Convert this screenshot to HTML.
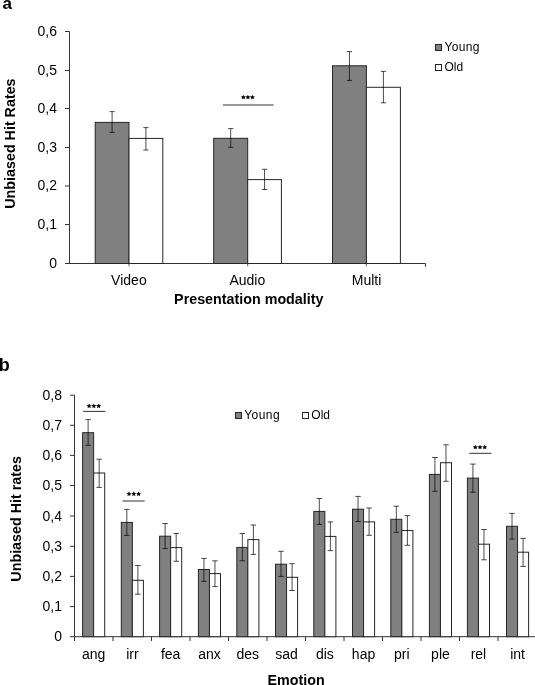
<!DOCTYPE html>
<html><head><meta charset="utf-8"><style>
html,body{margin:0;padding:0;background:#fff;width:535px;height:685px;overflow:hidden}
svg{display:block;will-change:transform}
text{font-family:"Liberation Sans", sans-serif;fill:#000}
</style></head><body>
<svg width="535" height="685" viewBox="0 0 535 685">
<path d="M69.5 31.5V263.5M65 263.5H425.5V266.8" stroke="#333333" stroke-width="1" fill="none"/>
<path d="M65 224.5H69.5" stroke="#333333" stroke-width="1"/>
<path d="M65 186H69.5" stroke="#333333" stroke-width="1"/>
<path d="M65 147.5H69.5" stroke="#333333" stroke-width="1"/>
<path d="M65 108.5H69.5" stroke="#333333" stroke-width="1"/>
<path d="M65 70.5H69.5" stroke="#333333" stroke-width="1"/>
<path d="M65 31.5H69.5" stroke="#333333" stroke-width="1"/>
<text x="57" y="267.5" font-size="14" text-anchor="end">0</text>
<text x="57" y="228.5" font-size="14" text-anchor="end">0,1</text>
<text x="57" y="190" font-size="14" text-anchor="end">0,2</text>
<text x="57" y="151.5" font-size="14" text-anchor="end">0,3</text>
<text x="57" y="112.5" font-size="14" text-anchor="end">0,4</text>
<text x="57" y="74.5" font-size="14" text-anchor="end">0,5</text>
<text x="57" y="35.5" font-size="14" text-anchor="end">0,6</text>
<rect x="95.2" y="122.4" width="33.8" height="141.1" fill="#808080" stroke="#262626" stroke-width="1"/>
<rect x="129" y="138.4" width="33.8" height="125.1" fill="#ffffff" stroke="#262626" stroke-width="1"/>
<rect x="213.7" y="138.3" width="34" height="125.2" fill="#808080" stroke="#262626" stroke-width="1"/>
<rect x="247.7" y="179.6" width="33.7" height="83.9" fill="#ffffff" stroke="#262626" stroke-width="1"/>
<rect x="332.5" y="65.8" width="33.9" height="197.7" fill="#808080" stroke="#262626" stroke-width="1"/>
<rect x="366.4" y="87.3" width="34" height="176.2" fill="#ffffff" stroke="#262626" stroke-width="1"/>
<path d="M129 263.5V266.3" stroke="#262626" stroke-opacity="0.75" stroke-width="1"/>
<path d="M112.1 111.6V132.4M109.5 111.6H114.7M109.5 132.4H114.7" stroke="rgba(0,0,0,0.7)" stroke-width="1" fill="none"/>
<path d="M145.9 127.6V150M143.3 127.6H148.5M143.3 150H148.5" stroke="rgba(0,0,0,0.7)" stroke-width="1" fill="none"/>
<path d="M247.7 263.5V266.3" stroke="#262626" stroke-opacity="0.75" stroke-width="1"/>
<path d="M230.7 128.6V147.3M228.1 128.6H233.3M228.1 147.3H233.3" stroke="rgba(0,0,0,0.7)" stroke-width="1" fill="none"/>
<path d="M264.55 169.3V189.5M261.95 169.3H267.15M261.95 189.5H267.15" stroke="rgba(0,0,0,0.7)" stroke-width="1" fill="none"/>
<path d="M366.4 263.5V266.3" stroke="#262626" stroke-opacity="0.75" stroke-width="1"/>
<path d="M349.45 51.6V80.4M346.85 51.6H352.05M346.85 80.4H352.05" stroke="rgba(0,0,0,0.7)" stroke-width="1" fill="none"/>
<path d="M383.4 71.4V102.8M380.8 71.4H386M380.8 102.8H386" stroke="rgba(0,0,0,0.7)" stroke-width="1" fill="none"/>
<text x="128.9" y="285" font-size="14" text-anchor="middle">Video</text>
<text x="247.3" y="285" font-size="14" text-anchor="middle">Audio</text>
<text x="366.6" y="285" font-size="14" text-anchor="middle">Multi</text>
<text x="248.8" y="303.5" font-size="14.3" text-anchor="middle" font-weight="bold">Presentation modality</text>
<text transform="translate(15,143.6) rotate(-90)" font-size="14.3" font-weight="bold" text-anchor="middle">Unbiased Hit Rates</text>
<path d="M222.9 105H273.6" stroke="#333" stroke-width="1"/>
<polygon points="243.40,94.65 244.13,96.24 245.87,96.45 244.59,97.64 244.93,99.35 243.40,98.50 241.87,99.35 242.21,97.64 240.93,96.45 242.67,96.24" fill="#000"/>
<polygon points="247.90,94.65 248.63,96.24 250.37,96.45 249.09,97.64 249.43,99.35 247.90,98.50 246.37,99.35 246.71,97.64 245.43,96.45 247.17,96.24" fill="#000"/>
<polygon points="252.40,94.65 253.13,96.24 254.87,96.45 253.59,97.64 253.93,99.35 252.40,98.50 250.87,99.35 251.21,97.64 249.93,96.45 251.67,96.24" fill="#000"/>
<rect x="435.5" y="44.5" width="6" height="6" fill="#808080" stroke="#262626" stroke-width="1"/>
<rect x="435.5" y="64.5" width="6" height="6" fill="#fff" stroke="#262626" stroke-width="1"/>
<text x="444.5" y="50.8" font-size="12" text-anchor="start" textLength="35" lengthAdjust="spacing">Young</text>
<text x="444.5" y="71" font-size="12" text-anchor="start">Old</text>
<text x="2.5" y="8.8" font-size="17" text-anchor="start" font-weight="bold">a</text>
<path d="M74.5 395.2V641M70 636.7H535" stroke="#333333" stroke-width="1" fill="none"/>
<path d="M70 606.6H74.5" stroke="#333333" stroke-width="1"/>
<path d="M70 576.4H74.5" stroke="#333333" stroke-width="1"/>
<path d="M70 546.3H74.5" stroke="#333333" stroke-width="1"/>
<path d="M70 516H74.5" stroke="#333333" stroke-width="1"/>
<path d="M70 485.6H74.5" stroke="#333333" stroke-width="1"/>
<path d="M70 455.4H74.5" stroke="#333333" stroke-width="1"/>
<path d="M70 425.3H74.5" stroke="#333333" stroke-width="1"/>
<path d="M70 395.2H74.5" stroke="#333333" stroke-width="1"/>
<text x="62" y="641.4" font-size="14" text-anchor="end">0</text>
<text x="62" y="611.3" font-size="14" text-anchor="end">0,1</text>
<text x="62" y="581.1" font-size="14" text-anchor="end">0,2</text>
<text x="62" y="551" font-size="14" text-anchor="end">0,3</text>
<text x="62" y="520.7" font-size="14" text-anchor="end">0,4</text>
<text x="62" y="490.3" font-size="14" text-anchor="end">0,5</text>
<text x="62" y="460.1" font-size="14" text-anchor="end">0,6</text>
<text x="62" y="430" font-size="14" text-anchor="end">0,7</text>
<text x="62" y="399.9" font-size="14" text-anchor="end">0,8</text>
<path d="M113 636.7V641" stroke="#333333" stroke-width="1"/>
<path d="M151.5 636.7V641" stroke="#333333" stroke-width="1"/>
<path d="M190 636.7V641" stroke="#333333" stroke-width="1"/>
<path d="M228.5 636.7V641" stroke="#333333" stroke-width="1"/>
<path d="M267 636.7V641" stroke="#333333" stroke-width="1"/>
<path d="M305.5 636.7V641" stroke="#333333" stroke-width="1"/>
<path d="M344 636.7V641" stroke="#333333" stroke-width="1"/>
<path d="M382.5 636.7V641" stroke="#333333" stroke-width="1"/>
<path d="M421 636.7V641" stroke="#333333" stroke-width="1"/>
<path d="M459.5 636.7V641" stroke="#333333" stroke-width="1"/>
<path d="M498 636.7V641" stroke="#333333" stroke-width="1"/>
<path d="M536.5 636.7V641" stroke="#333333" stroke-width="1"/>
<rect x="82.6" y="432.7" width="11.05" height="204" fill="#808080" stroke="#262626" stroke-width="1"/>
<rect x="93.65" y="473" width="11.05" height="163.7" fill="#ffffff" stroke="#262626" stroke-width="1"/>
<rect x="121.3" y="522.4" width="11.05" height="114.3" fill="#808080" stroke="#262626" stroke-width="1"/>
<rect x="132.35" y="580.3" width="11.05" height="56.4" fill="#ffffff" stroke="#262626" stroke-width="1"/>
<rect x="159.6" y="536.2" width="11.05" height="100.5" fill="#808080" stroke="#262626" stroke-width="1"/>
<rect x="170.65" y="547.6" width="11.05" height="89.1" fill="#ffffff" stroke="#262626" stroke-width="1"/>
<rect x="198.4" y="569.5" width="11.05" height="67.2" fill="#808080" stroke="#262626" stroke-width="1"/>
<rect x="209.45" y="573.6" width="11.05" height="63.1" fill="#ffffff" stroke="#262626" stroke-width="1"/>
<rect x="236.8" y="547.4" width="11.05" height="89.3" fill="#808080" stroke="#262626" stroke-width="1"/>
<rect x="247.85" y="539.6" width="11.05" height="97.1" fill="#ffffff" stroke="#262626" stroke-width="1"/>
<rect x="275.5" y="564.2" width="11.05" height="72.5" fill="#808080" stroke="#262626" stroke-width="1"/>
<rect x="286.55" y="577.3" width="11.05" height="59.4" fill="#ffffff" stroke="#262626" stroke-width="1"/>
<rect x="313.8" y="511.4" width="11.05" height="125.3" fill="#808080" stroke="#262626" stroke-width="1"/>
<rect x="324.85" y="536.4" width="11.05" height="100.3" fill="#ffffff" stroke="#262626" stroke-width="1"/>
<rect x="352.5" y="509.2" width="11.05" height="127.5" fill="#808080" stroke="#262626" stroke-width="1"/>
<rect x="363.55" y="521.9" width="11.05" height="114.8" fill="#ffffff" stroke="#262626" stroke-width="1"/>
<rect x="390.8" y="519.3" width="11.05" height="117.4" fill="#808080" stroke="#262626" stroke-width="1"/>
<rect x="401.85" y="530.5" width="11.05" height="106.2" fill="#ffffff" stroke="#262626" stroke-width="1"/>
<rect x="429.4" y="474.4" width="11.05" height="162.3" fill="#808080" stroke="#262626" stroke-width="1"/>
<rect x="440.45" y="462.7" width="11.05" height="174" fill="#ffffff" stroke="#262626" stroke-width="1"/>
<rect x="467.4" y="478.1" width="11.05" height="158.6" fill="#808080" stroke="#262626" stroke-width="1"/>
<rect x="478.45" y="544.2" width="11.05" height="92.5" fill="#ffffff" stroke="#262626" stroke-width="1"/>
<rect x="506.5" y="526.3" width="11.05" height="110.4" fill="#808080" stroke="#262626" stroke-width="1"/>
<rect x="517.55" y="552.2" width="11.05" height="84.5" fill="#ffffff" stroke="#262626" stroke-width="1"/>
<path d="M88.12 419.6V445.3M85.38 419.6H90.88M85.38 445.3H90.88" stroke="rgba(0,0,0,0.7)" stroke-width="1" fill="none"/>
<path d="M99.17 459.2V487.4M96.42 459.2H101.92M96.42 487.4H101.92" stroke="rgba(0,0,0,0.7)" stroke-width="1" fill="none"/>
<text x="93.65" y="658.5" font-size="14" text-anchor="middle">ang</text>
<path d="M126.83 509.4V535.4M124.08 509.4H129.57M124.08 535.4H129.57" stroke="rgba(0,0,0,0.7)" stroke-width="1" fill="none"/>
<path d="M137.88 565.5V594.2M135.12 565.5H140.62M135.12 594.2H140.62" stroke="rgba(0,0,0,0.7)" stroke-width="1" fill="none"/>
<text x="132.35" y="658.5" font-size="14" text-anchor="middle">irr</text>
<path d="M165.12 523.5V548.6M162.38 523.5H167.88M162.38 548.6H167.88" stroke="rgba(0,0,0,0.7)" stroke-width="1" fill="none"/>
<path d="M176.18 533.5V561.3M173.43 533.5H178.93M173.43 561.3H178.93" stroke="rgba(0,0,0,0.7)" stroke-width="1" fill="none"/>
<text x="170.65" y="658.5" font-size="14" text-anchor="middle">fea</text>
<path d="M203.93 558.4V581.3M201.18 558.4H206.68M201.18 581.3H206.68" stroke="rgba(0,0,0,0.7)" stroke-width="1" fill="none"/>
<path d="M214.98 560.8V586.6M212.23 560.8H217.73M212.23 586.6H217.73" stroke="rgba(0,0,0,0.7)" stroke-width="1" fill="none"/>
<text x="209.45" y="658.5" font-size="14" text-anchor="middle">anx</text>
<path d="M242.33 533.6V560.8M239.58 533.6H245.08M239.58 560.8H245.08" stroke="rgba(0,0,0,0.7)" stroke-width="1" fill="none"/>
<path d="M253.38 525V554.4M250.62 525H256.12M250.62 554.4H256.12" stroke="rgba(0,0,0,0.7)" stroke-width="1" fill="none"/>
<text x="247.85" y="658.5" font-size="14" text-anchor="middle">des</text>
<path d="M281.02 551.3V576.4M278.27 551.3H283.77M278.27 576.4H283.77" stroke="rgba(0,0,0,0.7)" stroke-width="1" fill="none"/>
<path d="M292.07 563.7V590.5M289.32 563.7H294.82M289.32 590.5H294.82" stroke="rgba(0,0,0,0.7)" stroke-width="1" fill="none"/>
<text x="286.55" y="658.5" font-size="14" text-anchor="middle">sad</text>
<path d="M319.32 498.5V524.4M316.57 498.5H322.07M316.57 524.4H322.07" stroke="rgba(0,0,0,0.7)" stroke-width="1" fill="none"/>
<path d="M330.38 521.9V550.6M327.62 521.9H333.12M327.62 550.6H333.12" stroke="rgba(0,0,0,0.7)" stroke-width="1" fill="none"/>
<text x="324.85" y="658.5" font-size="14" text-anchor="middle">dis</text>
<path d="M358.02 496.4V521.5M355.27 496.4H360.77M355.27 521.5H360.77" stroke="rgba(0,0,0,0.7)" stroke-width="1" fill="none"/>
<path d="M369.07 508V535.3M366.32 508H371.82M366.32 535.3H371.82" stroke="rgba(0,0,0,0.7)" stroke-width="1" fill="none"/>
<text x="363.55" y="658.5" font-size="14" text-anchor="middle">hap</text>
<path d="M396.32 506.2V532.3M393.57 506.2H399.07M393.57 532.3H399.07" stroke="rgba(0,0,0,0.7)" stroke-width="1" fill="none"/>
<path d="M407.38 515.6V545.3M404.62 515.6H410.12M404.62 545.3H410.12" stroke="rgba(0,0,0,0.7)" stroke-width="1" fill="none"/>
<text x="401.85" y="658.5" font-size="14" text-anchor="middle">pri</text>
<path d="M434.92 457.5V491.3M432.17 457.5H437.67M432.17 491.3H437.67" stroke="rgba(0,0,0,0.7)" stroke-width="1" fill="none"/>
<path d="M445.97 444.8V481.3M443.22 444.8H448.72M443.22 481.3H448.72" stroke="rgba(0,0,0,0.7)" stroke-width="1" fill="none"/>
<text x="440.45" y="658.5" font-size="14" text-anchor="middle">ple</text>
<path d="M472.92 464.1V492.2M470.17 464.1H475.67M470.17 492.2H475.67" stroke="rgba(0,0,0,0.7)" stroke-width="1" fill="none"/>
<path d="M483.97 529.5V559.8M481.22 529.5H486.72M481.22 559.8H486.72" stroke="rgba(0,0,0,0.7)" stroke-width="1" fill="none"/>
<text x="478.45" y="658.5" font-size="14" text-anchor="middle">rel</text>
<path d="M512.02 513.4V539.1M509.27 513.4H514.77M509.27 539.1H514.77" stroke="rgba(0,0,0,0.7)" stroke-width="1" fill="none"/>
<path d="M523.08 538.4V566.4M520.33 538.4H525.83M520.33 566.4H525.83" stroke="rgba(0,0,0,0.7)" stroke-width="1" fill="none"/>
<text x="517.55" y="658.5" font-size="14" text-anchor="middle">int</text>
<text x="296.1" y="684.7" font-size="14.3" text-anchor="middle" font-weight="bold">Emotion</text>
<text transform="translate(20.8,518.9) rotate(-90)" font-size="14.3" font-weight="bold" text-anchor="middle">Unbiased Hit rates</text>
<path d="M83.2 411.4H105.4" stroke="#333" stroke-width="1"/>
<polygon points="89.10,403.45 89.83,405.04 91.57,405.25 90.29,406.44 90.63,408.15 89.10,407.30 87.57,408.15 87.91,406.44 86.63,405.25 88.37,405.04" fill="#000"/>
<polygon points="93.85,403.45 94.58,405.04 96.32,405.25 95.04,406.44 95.38,408.15 93.85,407.30 92.32,408.15 92.66,406.44 91.38,405.25 93.12,405.04" fill="#000"/>
<polygon points="98.60,403.45 99.33,405.04 101.07,405.25 99.79,406.44 100.13,408.15 98.60,407.30 97.07,408.15 97.41,406.44 96.13,405.25 97.87,405.04" fill="#000"/>
<path d="M122.5 501H144.7" stroke="#333" stroke-width="1"/>
<polygon points="129.00,491.35 129.73,492.94 131.47,493.15 130.19,494.34 130.53,496.05 129.00,495.20 127.47,496.05 127.81,494.34 126.53,493.15 128.27,492.94" fill="#000"/>
<polygon points="133.80,491.35 134.53,492.94 136.27,493.15 134.99,494.34 135.33,496.05 133.80,495.20 132.27,496.05 132.61,494.34 131.33,493.15 133.07,492.94" fill="#000"/>
<polygon points="138.60,491.35 139.33,492.94 141.07,493.15 139.79,494.34 140.13,496.05 138.60,495.20 137.07,496.05 137.41,494.34 136.13,493.15 137.87,492.94" fill="#000"/>
<path d="M469.2 453.3H491.4" stroke="#333" stroke-width="1"/>
<polygon points="475.30,444.65 476.03,446.24 477.77,446.45 476.49,447.64 476.83,449.35 475.30,448.50 473.77,449.35 474.11,447.64 472.83,446.45 474.57,446.24" fill="#000"/>
<polygon points="480.00,444.65 480.73,446.24 482.47,446.45 481.19,447.64 481.53,449.35 480.00,448.50 478.47,449.35 478.81,447.64 477.53,446.45 479.27,446.24" fill="#000"/>
<polygon points="484.70,444.65 485.43,446.24 487.17,446.45 485.89,447.64 486.23,449.35 484.70,448.50 483.17,449.35 483.51,447.64 482.23,446.45 483.97,446.24" fill="#000"/>
<rect x="235.5" y="412.5" width="6" height="6" fill="#808080" stroke="#262626" stroke-width="1"/>
<rect x="302.5" y="412.5" width="6" height="6" fill="#fff" stroke="#262626" stroke-width="1"/>
<text x="244.2" y="419.2" font-size="12" text-anchor="start" textLength="35.4" lengthAdjust="spacing">Young</text>
<text x="311.3" y="419.2" font-size="12" text-anchor="start">Old</text>
<text x="-1.3" y="370.6" font-size="18" text-anchor="start" font-weight="bold">b</text>
</svg>
</body></html>
